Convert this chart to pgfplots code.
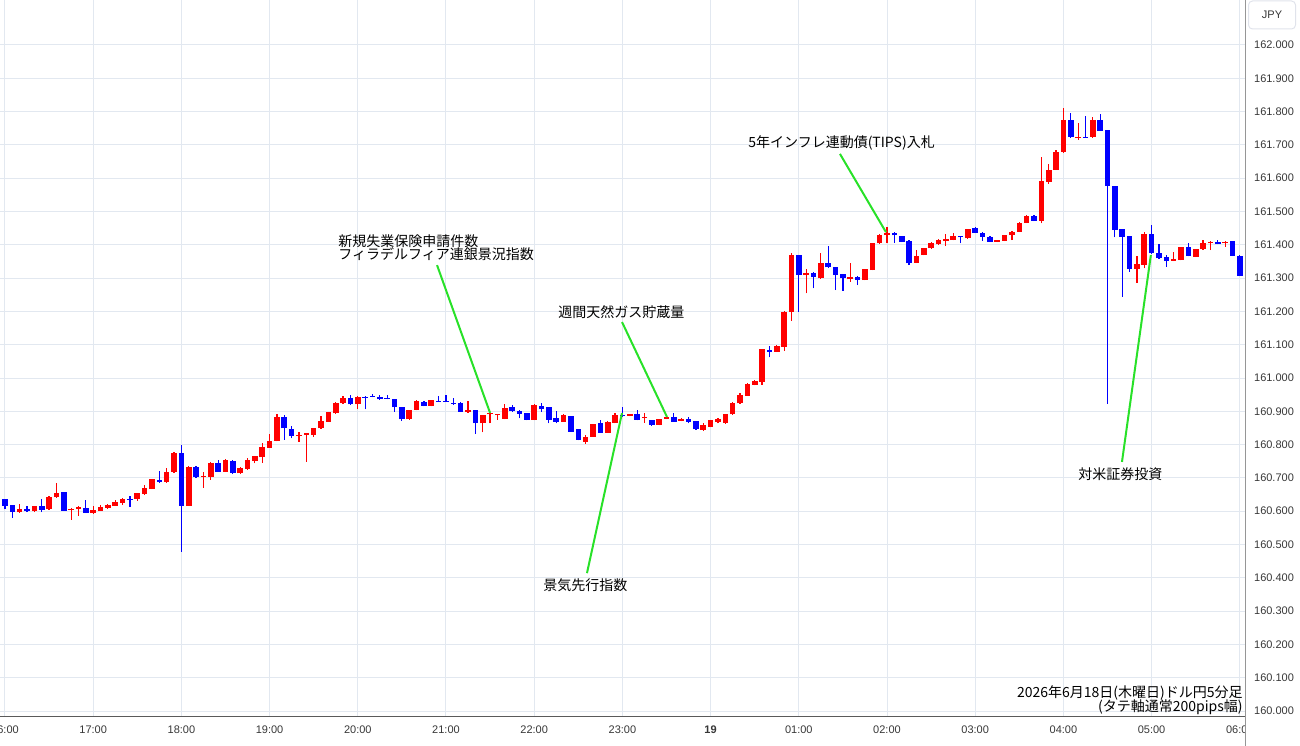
\documentclass[border=0pt]{standalone}
\usepackage{pgfplots}
\pgfplotsset{compat=1.18}
\usepackage{pgfplotstable}
\usepackage{fontspec}
\setmainfont{Liberation Sans}
\newfontfamily\jp{Noto Sans CJK JP}
\definecolor{up}{RGB}{255,0,0}
\definecolor{dn}{RGB}{0,0,255}
\definecolor{gridc}{RGB}{226,232,240}
\definecolor{ann}{RGB}{40,225,40}
\definecolor{tickc}{RGB}{55,55,55}

\pgfplotstableread{
t O H L C
2 160.597 160.621 160.596 160.606
4 160.600 160.617 160.597 160.616
6 160.606 160.645 160.605 160.644
7 160.642 160.684 160.641 160.656
9 160.604 160.609 160.574 160.608
10 160.606 160.616 160.586 160.612
12 160.594 160.616 160.593 160.604
13 160.602 160.619 160.601 160.614
14 160.610 160.621 160.608 160.619
15 160.617 160.634 160.616 160.629
16 160.624 160.639 160.619 160.638
18 160.636 160.655 160.631 160.654
19 160.651 160.679 160.650 160.669
20 160.667 160.697 160.666 160.696
22 160.687 160.729 160.686 160.717
23 160.717 160.777 160.716 160.774
25 160.617 160.735 160.616 160.734
27 160.702 160.719 160.671 160.706
28 160.704 160.747 160.694 160.746
30 160.719 160.756 160.718 160.754
32 160.714 160.734 160.713 160.729
33 160.727 160.759 160.724 160.754
34 160.751 160.767 160.744 160.766
35 160.762 160.806 160.746 160.794
36 160.791 160.831 160.790 160.811
37 160.811 160.892 160.810 160.882
40 160.826 160.839 160.809 160.830
41 160.830 160.834 160.749 160.834
42 160.829 160.850 160.824 160.849
43 160.849 160.887 160.848 160.872
44 160.869 160.898 160.868 160.897
45 160.894 160.927 160.893 160.926
46 160.924 160.946 160.923 160.939
48 160.921 160.945 160.906 160.944
55 160.876 160.905 160.875 160.904
56 160.904 160.933 160.903 160.932
58 160.916 160.935 160.915 160.934
63 160.899 160.932 160.896 160.904
65 160.864 160.890 160.837 160.889
66 160.891 160.895 160.864 160.894
67 160.888 160.892 160.874 160.891
68 160.878 160.922 160.876 160.909
72 160.874 160.922 160.873 160.919
76 160.869 160.892 160.868 160.889
79 160.809 160.829 160.802 160.824
80 160.824 160.863 160.823 160.862
82 160.836 160.870 160.835 160.869
83 160.866 160.894 160.864 160.889
85 160.886 160.893 160.885 160.892
87 160.882 160.894 160.866 160.884
89 160.859 160.878 160.858 160.877
90 160.877 160.889 160.876 160.882
92 160.871 160.880 160.870 160.877
95 160.844 160.866 160.842 160.859
96 160.854 160.875 160.852 160.874
97 160.869 160.881 160.864 160.876
98 160.866 160.892 160.862 160.891
99 160.891 160.929 160.890 160.926
100 160.924 160.954 160.923 160.949
101 160.947 160.986 160.946 160.982
102 160.979 160.993 160.978 160.992
103 160.989 161.087 160.979 161.086
105 161.079 161.099 161.078 161.096
106 161.094 161.200 161.082 161.199
107 161.199 161.374 161.172 161.369
109 161.309 161.326 161.254 161.314
111 161.299 161.374 161.298 161.344
115 161.296 161.344 161.289 161.304
117 161.294 161.327 161.293 161.326
118 161.324 161.405 161.323 161.404
119 161.404 161.432 161.403 161.429
120 161.429 161.454 161.404 161.434
124 161.346 161.384 161.345 161.366
125 161.369 161.390 161.368 161.389
126 161.389 161.409 161.388 161.404
127 161.401 161.417 161.400 161.414
128 161.411 161.432 161.396 161.416
129 161.414 161.434 161.413 161.426
131 161.419 161.448 161.418 161.447
135 161.409 161.415 161.408 161.414
136 161.412 161.430 161.411 161.429
137 161.429 161.440 161.414 161.439
138 161.439 161.467 161.438 161.466
139 161.466 161.488 161.465 161.487
141 161.472 161.663 161.464 161.593
142 161.590 161.643 161.583 161.625
143 161.625 161.685 161.624 161.680
144 161.678 161.810 161.677 161.775
146 161.720 161.767 161.715 161.725
148 161.723 161.783 161.722 161.775
154 161.327 161.366 161.286 161.342
155 161.339 161.439 161.329 161.432
159 161.352 161.379 161.351 161.356
160 161.354 161.394 161.353 161.394
162 161.364 161.387 161.363 161.386
163 161.386 161.414 161.385 161.406
164 161.404 161.410 161.384 161.409
166 161.404 161.410 161.394 161.409
}\upT

\pgfplotstableread{
t O H L C
0 160.636 160.637 160.606 160.617
1 160.619 160.620 160.581 160.597
3 160.606 160.617 160.597 160.600
5 160.616 160.636 160.597 160.604
8 160.657 160.658 160.601 160.602
11 160.609 160.633 160.594 160.595
17 160.637 160.646 160.614 160.634
21 160.694 160.722 160.686 160.687
24 160.774 160.799 160.478 160.617
26 160.734 160.735 160.699 160.704
29 160.746 160.754 160.718 160.719
31 160.752 160.754 160.712 160.714
38 160.882 160.889 160.814 160.849
39 160.847 160.856 160.819 160.826
47 160.939 160.949 160.920 160.921
49 160.944 160.946 160.906 160.942
50 160.947 160.952 160.942 160.945
51 160.944 160.950 160.935 160.936
52 160.939 160.949 160.936 160.937
53 160.937 160.938 160.899 160.912
54 160.912 160.913 160.872 160.876
57 160.929 160.932 160.915 160.916
59 160.932 160.946 160.928 160.930
60 160.931 160.949 160.928 160.929
61 160.926 160.939 160.919 160.924
62 160.926 160.927 160.898 160.899
64 160.904 160.905 160.832 160.864
69 160.912 160.919 160.899 160.902
70 160.902 160.903 160.879 160.892
71 160.894 160.895 160.873 160.874
73 160.916 160.924 160.899 160.906
74 160.912 160.913 160.864 160.874
75 160.879 160.902 160.864 160.869
77 160.886 160.887 160.838 160.839
78 160.846 160.847 160.813 160.814
81 160.864 160.874 160.835 160.836
84 160.889 160.914 160.884 160.887
86 160.892 160.904 160.873 160.874
88 160.874 160.875 160.856 160.859
91 160.882 160.896 160.868 160.869
93 160.877 160.884 160.864 160.869
94 160.871 160.872 160.845 160.846
104 161.084 161.096 161.062 161.079
108 161.369 161.370 161.199 161.309
110 161.314 161.319 161.269 161.302
112 161.344 161.397 161.331 161.332
113 161.332 161.333 161.264 161.309
114 161.311 161.312 161.262 161.299
116 161.304 161.305 161.279 161.294
121 161.434 161.439 161.406 161.428
122 161.426 161.427 161.408 161.409
123 161.412 161.413 161.339 161.344
130 161.426 161.427 161.404 161.422
132 161.449 161.454 161.435 161.436
133 161.436 161.437 161.412 161.424
134 161.424 161.425 161.408 161.409
140 161.487 161.489 161.471 161.472
145 161.775 161.797 161.722 161.723
147 161.725 161.788 161.722 161.723
149 161.775 161.793 161.742 161.743
150 161.745 161.746 160.922 161.577
151 161.577 161.578 161.422 161.444
152 161.446 161.447 161.244 161.424
153 161.426 161.427 161.319 161.327
156 161.432 161.459 161.373 161.374
157 161.374 161.402 161.358 161.359
158 161.362 161.369 161.334 161.351
161 161.394 161.406 161.365 161.366
165 161.409 161.414 161.401 161.402
167 161.410 161.411 161.366 161.367
168 161.367 161.368 161.306 161.307
}\dnT

\begin{document}
\begin{tikzpicture}[x=1pt,y=1pt]
\useasboundingbox (0,-14.5) rectangle (650,358);
\begin{axis}[
  at={(0,0)}, anchor=south west,
  scale only axis, width=622.5pt, height=358pt,
  xmin=-0.68, xmax=168.71, ymin=159.985, ymax=162.1351,
  axis line style={draw=none},
  major tick length=0pt,
  grid=major, grid style={gridc, line width=0.5pt},
  xtick={0,12,24,36,48,60,72,84,96,108,120,132,144,156,168},
  xticklabels={16:00,17:00,18:00,19:00,20:00,21:00,22:00,23:00,\textbf{19},01:00,02:00,03:00,04:00,05:00,06:00},
  ytick={160,160.1,160.2,160.3,160.4,160.5,160.6,160.7,160.8,160.9,161,161.1,161.2,161.3,161.4,161.5,161.6,161.7,161.8,161.9,162},
  yticklabel pos=right,
  /pgf/number format/assume math mode=true,
  /pgf/number format/fixed,
  /pgf/number format/fixed zerofill,
  /pgf/number format/precision=3,
  /pgf/number format/1000 sep={},
  tick label style={font=\fontsize{5.5}{6}\selectfont, color=tickc},
  xticklabel style={anchor=center, yshift=-7pt},
  yticklabel style={anchor=center, xshift=14.5pt},
  clip mode=individual,
]
% wicks
\addplot[draw=none, mark=none, forget plot, error bars/.cd, y dir=plus, y explicit, error mark=none,
  error bar style={draw=up, line width=0.6pt}]
  table[x=t, y=L, y error expr=\thisrow{H}-\thisrow{L}] {\upT};
\addplot[draw=none, mark=none, forget plot, error bars/.cd, y dir=plus, y explicit, error mark=none,
  error bar style={draw=dn, line width=0.6pt}]
  table[x=t, y=L, y error expr=\thisrow{H}-\thisrow{L}] {\dnT};
% bodies
\addplot[draw=none, mark=none, forget plot, error bars/.cd, y dir=plus, y explicit, error mark=none,
  error bar style={draw=up, line width=2.8pt}]
  table[x=t, y=O, y error expr=\thisrow{C}-\thisrow{O}] {\upT};
\addplot[draw=none, mark=none, forget plot, error bars/.cd, y dir=plus, y explicit, error mark=none,
  error bar style={draw=dn, line width=2.8pt}]
  table[x=t, y=C, y error expr=\thisrow{O}-\thisrow{C}] {\dnT};

% annotations
\draw[ann, line width=1pt] (axis cs:58.78,161.339) -- (axis cs:66,160.895);
\draw[ann, line width=1pt] (axis cs:83.95,161.168) -- (axis cs:90.07,160.883);
\draw[ann, line width=1pt] (axis cs:79.18,160.414) -- (axis cs:83.95,160.895);
\draw[ann, line width=1pt] (axis cs:113.6,161.673) -- (axis cs:119.86,161.438);
\draw[ann, line width=1pt] (axis cs:151.97,160.748) -- (axis cs:155.9,161.369);

\tikzset{jpt/.style={inner sep=0pt, font=\jp\fontsize{7}{8}\selectfont, text=black}}
\node[jpt, anchor=west] at (axis cs:45.31,161.411) {新規失業保険申請件数};
\node[jpt, anchor=west] at (axis cs:45.31,161.372) {フィラデルフィア連銀景況指数};
\node[jpt, anchor=west] at (axis cs:75.24,161.198) {週間天然ガス貯蔵量};
\node[jpt, anchor=west] at (axis cs:73.2,160.378) {景気先行指数};
\node[jpt, anchor=west] at (axis cs:101.09,161.706) {5年インフレ連動債(TIPS)入札};
\node[jpt, anchor=west] at (axis cs:145.99,160.712) {対米証券投資};
\node[jpt, anchor=east] at (axis cs:168.44,160.054) {2026年6月18日(木曜日)ドル円5分足};
\node[jpt, anchor=east] at (axis cs:168.44,160.012) {(タテ軸通常200pips幅)};
\end{axis}
% frame
\fill[white] (622.5,-15) rectangle (651,0);
\draw[color={rgb,255:red,90;green,90;blue,90}, line width=0.5pt] (0,0) -- (622.5,0);
\draw[color={rgb,255:red,150;green,150;blue,150}, line width=0.5pt] (622.5,-15) -- (622.5,358);
\node[draw={rgb,255:red,224;green,227;blue,235}, rounded corners=2pt, line width=0.5pt,
  minimum width=23.5pt, minimum height=14pt, inner sep=0pt,
  font=\fontsize{5.5}{6}\selectfont, text=tickc] at (636,350.5) {JPY};
\end{tikzpicture}
\end{document}
